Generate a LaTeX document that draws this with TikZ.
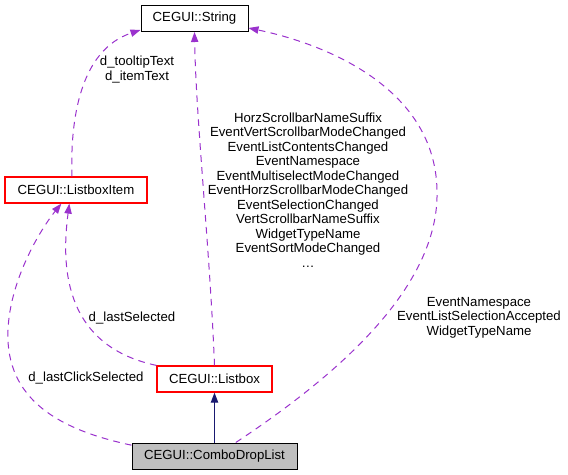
\documentclass[tikz,border=0pt]{standalone}
\usepackage{fontspec}
\setmainfont{Liberation Sans}
\usetikzlibrary{arrows.meta}
\definecolor{usedcol}{HTML}{9A32CD}
\definecolor{basecol}{HTML}{191970}
\definecolor{grey75}{HTML}{BFBFBF}
\definecolor{boxred}{HTML}{FF0000}

\begin{document}
\begin{tikzpicture} [x = 0.75pt, y = -0.75pt,
  every node/.style = {font = \fontsize{9.9}{10.9}\selectfont},
  cls/.style = {draw, line width = 0.75pt, minimum height = 19.5pt, inner sep = 0pt},
  redcls/.style = {cls, draw = boxred, text = black, line width = 0.9pt},
  used/.style = {usedcol, line width = 0.75pt, dash pattern = on 5pt off 4pt,
    -{Triangle[length = 7.5pt, width = 5.5pt]}},
  base/.style = {basecol, line width = 0.75pt, -{Triangle[length = 7.5pt, width = 5.5pt]}},
  lbl/.style = {align = center, inner sep = 0pt}]
\useasboundingbox (0,0) rectangle (568,475);
\node[cls, minimum width = 80.25pt] (string) at (194.5,18.5) {CEGUI::String};
\node[redcls, minimum width = 106.5pt] (listboxitem) at (76,190) {CEGUI::ListboxItem};
\node[redcls, minimum width = 86.25pt] (listbox) at (214.5,379) {CEGUI::Listbox};
\node[cls, fill = grey75, minimum width = 123.75pt] (combo) at (214.5,456) {CEGUI::ComboDropList};
\draw [base] (combo.north) -- (listbox.south);
\draw [used] ([xshift = -3pt]listboxitem.north) .. controls (70,120) and (80,50) .. ([yshift = 1.5pt]string.south west);
\draw [used] (listbox.north) .. controls (210,250) and (196,120) .. (string.south);
\draw [used] ([xshift = 16pt]combo.north) .. controls (330,380) and (440,290) .. (437,190)
  .. controls (435,90) and (330,45) .. ([yshift = 3pt]string.south east);
\draw [used] (listbox.north west) .. controls (60,345) and (62,260) .. ([xshift = -5pt]listboxitem.south);
\draw [used] ([yshift = -2pt]combo.north west) .. controls (60,430) and (5,400) .. (8,330)
  .. controls (10,280) and (40,230) .. ([xshift = -11pt]listboxitem.south);
\node[lbl] (tiptext) at (137,69.5) {d\_tooltipText\\d\_itemText};
\node[lbl] (consts) at (308,190) {HorzScrollbarNameSuffix\\EventVertScrollbarModeChanged\\EventListContentsChanged\\EventNamespace\\EventMultiselectModeChanged\\EventHorzScrollbarModeChanged\\EventSelectionChanged\\VertScrollbarNameSuffix\\WidgetTypeName\\EventSortModeChanged\\\dots};
\node[lbl] (comboconsts) at (479,317.5) {EventNamespace\\EventListSelectionAccepted\\WidgetTypeName};
\node[lbl] (lastsel) at (132,318) {d\_lastSelected};
\node[lbl] (lastclick) at (86,378) {d\_lastClickSelected};
\end{tikzpicture}
\end{document}
